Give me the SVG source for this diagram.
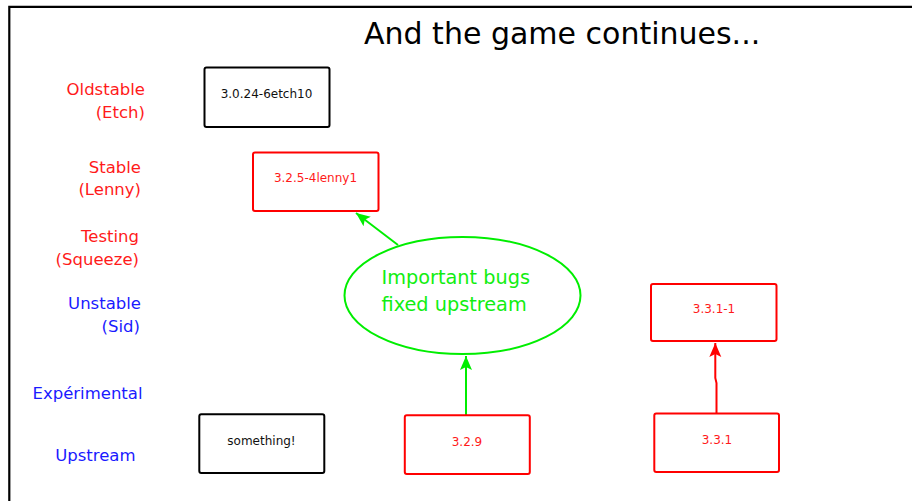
<svg xmlns="http://www.w3.org/2000/svg" width="912" height="501" viewBox="0 0 912 501">
<defs>
<style>
text{font-family:"DejaVu Sans",Verdana,sans-serif}
.lbl{font-size:16.5px;text-anchor:end}
.red{fill:#ff1a1a}
.blue{fill:#1a1aff}
.box{fill:#fff;stroke-width:2}
.bk{stroke:#000}
.rd{stroke:#ff0000}
.bt{font-size:12px;text-anchor:middle}
.gl{stroke:#00ee00;stroke-width:2;fill:none}
.rl{stroke:#ff0000;stroke-width:2;fill:none}
</style>
<marker id="ag" markerUnits="userSpaceOnUse" markerWidth="16" markerHeight="14" refX="14" refY="7" orient="auto"><path d="M0,1 L14,7 L0,13 L3,7 Z" fill="#00ee00"/></marker>
<marker id="ar" markerUnits="userSpaceOnUse" markerWidth="16" markerHeight="14" refX="14" refY="7" orient="auto"><path d="M0,1 L14,7 L0,13 L3,7 Z" fill="#ff0000"/></marker>
</defs>
<rect width="912" height="501" fill="#fff"/>
<path d="M9.3,501 V6.8 H912" fill="none" stroke="#000" stroke-width="2.2"/>
<text x="364" y="44" font-size="30" fill="#000">And the game continues...</text>
<g id="labels">
<text class="lbl red" x="145" y="95">Oldstable</text>
<text class="lbl red" x="145" y="117.5">(Etch)</text>
<text class="lbl red" x="141" y="172.7">Stable</text>
<text class="lbl red" x="141" y="195">(Lenny)</text>
<text class="lbl red" x="139" y="242.3">Testing</text>
<text class="lbl red" x="139" y="264.8">(Squeeze)</text>
<text class="lbl blue" x="141" y="309">Unstable</text>
<text class="lbl blue" x="140" y="331.5">(Sid)</text>
<text class="lbl blue" x="142.5" y="398.5">Expérimental</text>
<text class="lbl blue" x="135.5" y="461">Upstream</text>
</g>
<g id="connectors">
<line class="gl" x1="466" y1="415" x2="466" y2="356" marker-end="url(#ag)"/>
<line class="gl" x1="398" y1="245" x2="356" y2="213" marker-end="url(#ag)"/>
<path class="rl" d="M716.5,413 V383 L715.3,378 V343" marker-end="url(#ar)"/>
</g>
<g id="etch">
<rect class="box bk" x="204.5" y="67.5" width="125" height="59.5" rx="2"/>
<text class="bt" x="266.5" y="98" fill="#111">3.0.24-6etch10</text>
</g>
<g id="lenny">
<rect class="box rd" x="253" y="152.5" width="125.5" height="58.5" rx="2"/>
<text class="bt red" x="315.5" y="181.7">3.2.5-4lenny1</text>
</g>
<g id="bugs">
<ellipse cx="462.5" cy="295.5" rx="118" ry="58.5" fill="#fff" stroke="#00ee00" stroke-width="2"/>
<text x="381.5" y="284" font-size="19.3" fill="#11ee11">Important bugs</text>
<text x="381.5" y="310.5" font-size="19.3" fill="#11ee11">fixed upstream</text>
</g>
<g id="v331-1">
<rect class="box rd" x="651" y="284" width="125.5" height="57" rx="2"/>
<text class="bt red" x="714" y="313.3">3.3.1-1</text>
</g>
<g id="something">
<rect class="box bk" x="199.3" y="414.3" width="125" height="58.7" rx="2"/>
<text class="bt" x="261.5" y="445" fill="#111">something!</text>
</g>
<g id="v329">
<rect class="box rd" x="404.8" y="415.3" width="125" height="58.7" rx="2"/>
<text class="bt red" x="467" y="446">3.2.9</text>
</g>
<g id="v331">
<rect class="box rd" x="654.3" y="413.5" width="124.7" height="58.5" rx="2"/>
<text class="bt red" x="717" y="444.3">3.3.1</text>
</g>
</svg>
